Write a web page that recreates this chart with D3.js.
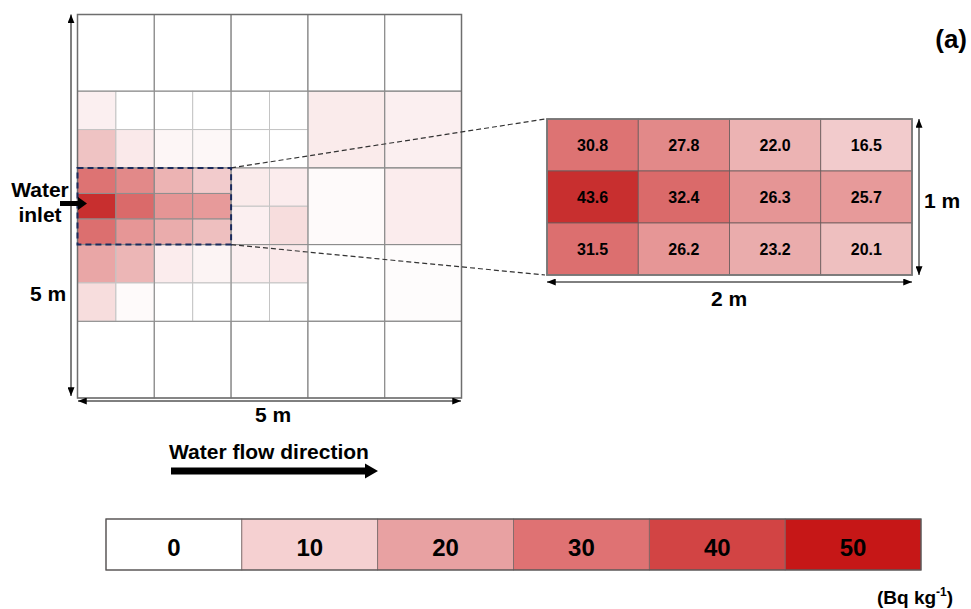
<!DOCTYPE html>
<html>
<head>
<meta charset="utf-8">
<script src="https://cdn.jsdelivr.net/npm/d3@7"></script>
<style>
  body { margin: 0; background: #fff; }
  text { font-family: "Liberation Sans", Arial, sans-serif; font-weight: bold; fill: #000; }
</style>
</head>
<body>
<svg id="chart" width="971" height="609"></svg>
<script>
// legend classes (Bq kg-1) and their colours
const legendValues = [0, 10, 20, 30, 40, 50];
const legendColors = ["#ffffff", "#f5d0d1", "#e8a1a2", "#df7273", "#d24444", "#c61717"];

const cellStops = [0, 15, 20, 25, 30, 45, 50];
const cellColors = ["#ffffff", "#f4d0d1", "#eec0c0", "#e8a0a0", "#de7777", "#c62828", "#c41616"];

// 1 m cells of the 5 m x 5 m pond (rows top->bottom), null = subdivided
const coarseValues = [
  [0, 0, 0, 0, 0],
  [null, null, null, 6.5, 5],
  [null, null, null, 1.5, 6],
  [null, null, null, 0, 1],
  [0, 0, 0, 0, 0]
];

// 0.5 m cells for x 0-3 m, y 1-4 m, null = sampled at finer resolution
const halfValues = [
  [5, 0, 0, 0, 0, 0],
  [19, 7, 3, 2.5, 0, 0],
  [null, null, null, null, 6.5, 6],
  [null, null, null, null, 5, 11],
  [24, 21.5, 6, 3.5, 5, 7],
  [11, 1.5, 0, 0, 0, 0]
];

// inlet area, 2 m x 1 m, 4 columns x 3 rows
const insetValues = [
  [30.8, 27.8, 22.0, 16.5],
  [43.6, 32.4, 26.3, 25.7],
  [31.5, 26.2, 23.2, 20.1]
];

const svg = d3.select("#chart");
const legendColor = d3.scaleOrdinal().domain(legendValues).range(legendColors);
const color = d3.scaleLinear().domain(cellStops).range(cellColors).clamp(true);

// pond in metres -> pixels
const xm = d3.scaleLinear().domain([0, 5]).range([77.5, 461.5]);
const ym = d3.scaleLinear().domain([0, 5]).range([14.5, 398]);

const defs = svg.append("defs");
defs.append("marker")
  .attr("id", "tip")
  .attr("markerUnits", "userSpaceOnUse")
  .attr("viewBox", "0 0 10 8")
  .attr("refX", 10).attr("refY", 4)
  .attr("markerWidth", 9).attr("markerHeight", 7)
  .attr("orient", "auto-start-reverse")
  .append("path")
  .attr("d", "M0,0 L10,4 L0,8 Z")
  .attr("fill", "#000");

function dimArrow(x1, y1, x2, y2) {
  svg.append("line")
    .attr("x1", x1).attr("y1", y1).attr("x2", x2).attr("y2", y2)
    .attr("stroke", "#000").attr("stroke-width", 1)
    .attr("marker-start", "url(#tip)")
    .attr("marker-end", "url(#tip)");
}

function label(x, y, size, txt, anchor) {
  return svg.append("text").attr("x", x).attr("y", y)
    .attr("text-anchor", anchor || "middle")
    .attr("font-size", size).text(txt);
}

// cells
const cells = [];
coarseValues.forEach((row, r) => row.forEach((v, c) => {
  if (v !== null) cells.push({x: c, y: r, w: 1, h: 1, v: v, s: "#9a9a9a"});
}));
halfValues.forEach((row, r) => row.forEach((v, c) => {
  if (v !== null) cells.push({x: c * 0.5, y: 1 + r * 0.5, w: 0.5, h: 0.5, v: v, s: "#c4c4c4"});
}));
insetValues.forEach((row, r) => row.forEach((v, c) => {
  cells.push({x: c * 0.5, y: 2 + r / 3, w: 0.5, h: 1 / 3, v: v, s: "#8f8f8f"});
}));

svg.append("g").selectAll("rect")
  .data(cells)
  .join("rect")
  .attr("x", d => xm(d.x))
  .attr("y", d => ym(d.y))
  .attr("width", d => xm(d.x + d.w) - xm(d.x))
  .attr("height", d => ym(d.y + d.h) - ym(d.y))
  .attr("fill", d => color(d.v))
  .attr("stroke", d => d.s)
  .attr("stroke-width", 1);

// 1 m grid lines
svg.append("g").selectAll("line")
  .data(d3.range(1, 5))
  .join("line")
  .attr("x1", d => xm(d)).attr("x2", d => xm(d))
  .attr("y1", ym(0)).attr("y2", ym(5))
  .attr("stroke", "#8c8c8c").attr("stroke-width", 1);
svg.append("g").selectAll("line")
  .data(d3.range(1, 5))
  .join("line")
  .attr("x1", xm(0)).attr("x2", xm(5))
  .attr("y1", d => ym(d)).attr("y2", d => ym(d))
  .attr("stroke", "#8c8c8c").attr("stroke-width", 1);

svg.append("rect")
  .attr("x", xm(0)).attr("y", ym(0))
  .attr("width", xm(5) - xm(0)).attr("height", ym(5) - ym(0))
  .attr("fill", "none").attr("stroke", "#6e6e6e").attr("stroke-width", 1.5);

// inset panel
const ix = d3.scaleBand().domain(d3.range(4)).range([547, 912]);
const iy = d3.scaleBand().domain(d3.range(3)).range([119, 275]);

// connectors
svg.append("line")
  .attr("x1", xm(2)).attr("y1", ym(2)).attr("x2", 545).attr("y2", 119)
  .attr("stroke", "#333").attr("stroke-width", 1.2).attr("stroke-dasharray", "5,3");
svg.append("line")
  .attr("x1", xm(2)).attr("y1", ym(3)).attr("x2", 545).attr("y2", 275)
  .attr("stroke", "#333").attr("stroke-width", 1.2).attr("stroke-dasharray", "5,3");

// dashed selection box
svg.append("rect")
  .attr("x", xm(0)).attr("y", ym(2))
  .attr("width", xm(2) - xm(0)).attr("height", ym(3) - ym(2))
  .attr("fill", "none").attr("stroke", "#1b2a5c").attr("stroke-width", 2)
  .attr("stroke-dasharray", "6,4");

const insetCells = [];
insetValues.forEach((row, r) => row.forEach((v, c) => insetCells.push({r: r, c: c, v: v})));

const ig = svg.append("g");
ig.selectAll("rect")
  .data(insetCells)
  .join("rect")
  .attr("x", d => ix(d.c)).attr("y", d => iy(d.r))
  .attr("width", ix.bandwidth()).attr("height", iy.bandwidth())
  .attr("fill", d => color(d.v))
  .attr("stroke", "#6a5a5a").attr("stroke-width", 0.8);
ig.selectAll("text")
  .data(insetCells)
  .join("text")
  .attr("x", d => ix(d.c) + ix.bandwidth() / 2)
  .attr("y", d => iy(d.r) + iy.bandwidth() / 2 + 5.5)
  .attr("text-anchor", "middle")
  .attr("font-size", 16)
  .text(d => d.v.toFixed(1));
svg.append("rect")
  .attr("x", 547).attr("y", 119).attr("width", 365).attr("height", 156)
  .attr("fill", "none").attr("stroke", "#777").attr("stroke-width", 1.8);

// dimension arrows
dimArrow(71, 14.5, 71, 396);
dimArrow(78, 401, 461, 401);
dimArrow(919, 119, 919, 275);
dimArrow(547, 282, 912, 282);

label(48, 301, 21, "5 m");
label(273, 422, 21, "5 m");
label(942, 208, 21, "1 m");
label(729, 306, 21, "2 m");

// water inlet
label(40, 197, 21, "Water");
label(40, 222, 21, "inlet");
svg.append("path")
  .attr("d", "M60,201 L78,201 L78,197 L87,203.5 L78,210 L78,206 L60,206 Z")
  .attr("fill", "#000");

// flow direction
label(169, 459, 21, "Water flow direction", "start");
svg.append("path")
  .attr("d", "M171,467.5 L365,467.5 L365,463.5 L378,471 L365,478.5 L365,474.5 L171,474.5 Z")
  .attr("fill", "#000");

// (a)
label(967, 48, 26, "(a)", "end");

// legend
const lx = d3.scaleBand().domain(legendValues).range([106, 921]);
const lg = svg.append("g");
lg.selectAll("rect")
  .data(legendValues)
  .join("rect")
  .attr("x", d => lx(d)).attr("y", 519)
  .attr("width", lx.bandwidth()).attr("height", 51)
  .attr("fill", d => legendColor(d))
  .attr("stroke", "#7a6a6a").attr("stroke-width", 0.8);
lg.selectAll("text")
  .data(legendValues)
  .join("text")
  .attr("x", d => lx(d) + lx.bandwidth() / 2)
  .attr("y", 556)
  .attr("text-anchor", "middle")
  .attr("font-size", 24)
  .text(d => d);
lg.append("rect")
  .attr("x", 106).attr("y", 519).attr("width", 815).attr("height", 51)
  .attr("fill", "none").attr("stroke", "#555").attr("stroke-width", 1.2);

const unit = label(877, 604, 19, null, "start");
unit.append("tspan").text("(Bq kg");
unit.append("tspan").attr("font-size", 12).attr("dy", -8).text("-1");
unit.append("tspan").attr("dy", 8).text(")");
</script>
</body>
</html>
